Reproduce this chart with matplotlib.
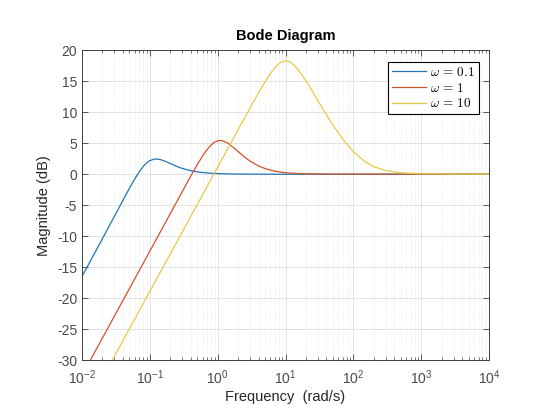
import matplotlib
matplotlib.use("Agg")
import matplotlib.pyplot as plt
from matplotlib.ticker import LogLocator, NullFormatter, MultipleLocator

plt.rcParams['font.family'] = ['Liberation Sans', 'DejaVu Sans']
plt.rcParams['mathtext.fontset'] = 'cm'
plt.rcParams['axes.unicode_minus'] = False

# frequencies (rad/s) and magnitudes (dB)
w_blue = [0.01, 0.015, 0.02, 0.03, 0.04, 0.05, 0.06, 0.07, 0.08, 0.09, 0.1,
          0.12, 0.14, 0.17, 0.2, 0.25, 0.3, 0.4, 0.5, 0.7, 1, 1.5, 2, 5, 10000]
mag_blue = [-16.46, -12.91, -10.38, -6.79, -4.22, -2.26, -0.74, 0.41, 1.26,
            1.84, 2.20, 2.46, 2.39, 2.06, 1.72, 1.25, 0.93, 0.57, 0.37, 0.20,
            0.10, 0.04, 0.02, 0.0, 0.0]

w_red = [0.01, 0.02, 0.03, 0.05, 0.07, 0.1, 0.15, 0.2, 0.3, 0.4, 0.5, 0.6,
         0.7, 0.8, 0.9, 1.0, 1.1, 1.2, 1.4, 1.7, 2, 2.5, 3, 4, 5, 7, 10, 15,
         20, 50, 10000]
mag_red = [-32.40, -26.38, -22.85, -18.41, -15.49, -12.39, -8.86, -6.35,
           -2.81, -0.32, 1.55, 2.96, 3.99, 4.71, 5.16, 5.38, 5.43, 5.36, 5.02,
           4.32, 3.65, 2.75, 2.11, 1.33, 0.90, 0.48, 0.24, 0.11, 0.06, 0.01,
           0.0]

w_yellow = [0.01, 0.02, 0.03, 0.05, 0.07, 0.1, 0.15, 0.2, 0.3, 0.5, 0.7, 1,
            1.5, 2, 3, 4, 5, 6, 7, 8, 9, 10, 11, 12, 14, 17, 20, 25, 30, 40,
            50, 70, 100, 150, 200, 300, 500, 1000, 10000]
mag_yellow = [-38.86, -32.84, -29.32, -24.88, -21.96, -18.86, -15.34, -12.84,
              -9.32, -4.88, -1.96, 1.14, 4.66, 7.16, 10.66, 13.10, 14.90,
              16.24, 17.19, 17.81, 18.14, 18.25, 18.18, 17.98, 17.35, 16.19,
              15.03, 13.30, 11.85, 9.60, 7.92, 5.63, 3.62, 1.98, 1.22, 0.59,
              0.22, 0.06, 0.0]

labels = [r'$\omega \,=\, 0.1$', r'$\omega \,=\, 1$', r'$\omega \,=\, 10$']
colors = ['#1f74b8', '#d0532a', '#e2cc45']

fig = plt.figure(figsize=(5.4, 4.05), dpi=100, facecolor='white')
ax = fig.add_axes([0.1519, 0.1099, 0.7537, 0.7666])

for w, m, lab, col in zip([w_blue, w_red, w_yellow],
                          [mag_blue, mag_red, mag_yellow], labels, colors):
    ax.plot(w, m, color=col, lw=0.9, label=lab)

ax.set_xscale('log')
ax.set_xlim(1e-2, 1e4)
ax.set_ylim(-30, 20)
ax.yaxis.set_major_locator(MultipleLocator(5))
ax.xaxis.set_major_locator(LogLocator(base=10, numticks=10))
ax.xaxis.set_minor_locator(LogLocator(base=10, subs=range(2, 10), numticks=100))
ax.xaxis.set_minor_formatter(NullFormatter())

ax.grid(True, which='major', color='#dedede', lw=0.6, ls='-')
ax.grid(True, which='minor', axis='x', color='#e2e2e2', lw=0.5, ls=':')
ax.set_axisbelow(True)

ax.tick_params(which='both', direction='in', top=True, right=True,
               colors='#404040', labelcolor='#4a4a4a', labelsize=10)
ax.tick_params(which='major', length=4, width=0.6)
ax.tick_params(which='minor', length=2, width=0.5)
ax.tick_params(axis='x', which='major', pad=6)
for s in ax.spines.values():
    s.set_color('#404040')
    s.set_linewidth(0.7)

ax.set_title('Bode Diagram', fontsize=10.5, fontweight='bold', pad=7)
ax.set_xlabel('Frequency  (rad/s)', fontsize=10.5, color='#262626', labelpad=2)
ax.set_ylabel('Magnitude (dB)', fontsize=10.5, color='#262626', labelpad=4)

leg = ax.legend(loc='upper right', bbox_to_anchor=(0.9754, 0.9614),
                borderaxespad=0, fancybox=False, framealpha=1,
                edgecolor='black', fontsize=9.5, handlelength=2.6,
                handletextpad=0.3, labelspacing=0.2, borderpad=0.3)
leg.get_frame().set_linewidth(0.8)

fig.savefig('out.png', dpi=100, facecolor='white')
